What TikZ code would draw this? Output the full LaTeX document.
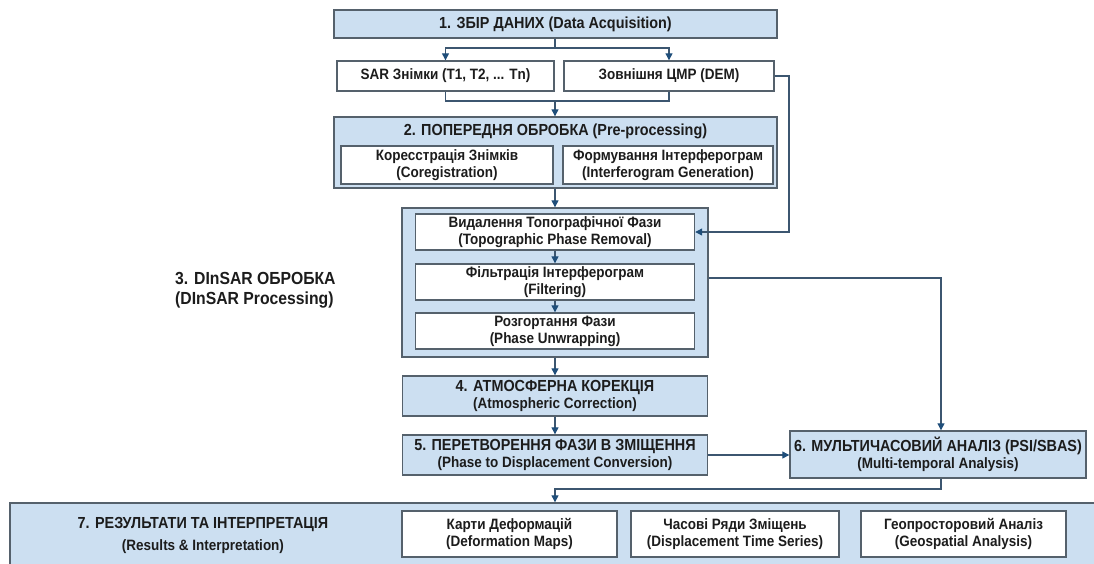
\documentclass[tikz,border=0pt]{standalone}
\usepackage{fontspec}
\setmainfont[FakeStretch=0.9]{Liberation Sans}
\usetikzlibrary{arrows.meta}
\definecolor{boxfill}{HTML}{CCDFF1}
\definecolor{boxdraw}{HTML}{55616C}
\definecolor{linecol}{HTML}{3C5670}
\definecolor{arrowcol}{HTML}{1F4E7A}
\definecolor{txtcol}{HTML}{1C1C1C}
\newcommand\mybig{\fontsize{16}{17}\selectfont}
\tikzset{
  bbox/.style={draw=boxdraw, fill=boxfill, line width=1.4pt, inner sep=0pt, align=center, text=txtcol, font=\fontsize{15}{17}\selectfont\bfseries},
  wbox/.style={draw=boxdraw, fill=white, line width=1.4pt, inner sep=0pt, align=center, text=txtcol, font=\fontsize{15}{17}\selectfont\bfseries},
  lbl/.style={inner sep=0pt, align=center, text=txtcol, font=\fontsize{16}{19}\selectfont\bfseries},
  conn/.style={draw=linecol, line width=1.2pt},
  arr/.style={conn, -{Triangle[length=7pt,width=7pt,color=arrowcol]}},
}
\begin{document}
\begin{tikzpicture}[x=1pt,y=-1pt]
\useasboundingbox (0,0) rectangle (1094,563);
% 1
\node[bbox, minimum width=443pt, minimum height=28pt] (b1) at (555.5,24) {\mybig 1. ЗБІР ДАНИХ (Data Acquisition)};
\node[wbox, minimum width=217pt, minimum height=30pt] (sar) at (445.5,76) {SAR Знімки (T1, T2, ... Tn)};
\node[wbox, minimum width=210pt, minimum height=30pt] (dem) at (669,76) {Зовнішня ЦМР (DEM)};
% 2
\node[bbox, minimum width=443pt, minimum height=71pt] (b2) at (555.5,152.5) {};
\node[lbl] (b2t) at (555.5,131) {2. ПОПЕРЕДНЯ ОБРОБКА (Pre-processing)};
\node[wbox, minimum width=212pt, minimum height=38pt] (cor) at (447,165) {Коресстрація Знімків\\(Coregistration)};
\node[wbox, minimum width=210pt, minimum height=38pt] (ifg) at (668,165) {Формування Інтерферограм\\(Interferogram Generation)};
% 3
\node[bbox, minimum width=306pt, minimum height=149pt] (b3) at (555,282.5) {};
\node[wbox, minimum width=279pt, minimum height=36pt] (t1) at (555,232) {Видалення Топографічної Фази\\(Topographic Phase Removal)};
\node[wbox, minimum width=279pt, minimum height=36pt] (t2) at (555,282) {Фільтрація Інтерферограм\\(Filtering)};
\node[wbox, minimum width=279pt, minimum height=36pt] (t3) at (555,331) {Розгортання Фази\\(Phase Unwrapping)};
\node[lbl, anchor=west, align=left, font=\fontsize{17.5}{20}\selectfont\bfseries] (l3) at (175,290) {3. DInSAR ОБРОБКА\\(DInSAR Processing)};
% 4,5,6
\node[bbox, minimum width=305pt, minimum height=40pt] (b4) at (555,396) {\mybig 4. АТМОСФЕРНА КОРЕКЦІЯ\\(Atmospheric Correction)};
\node[bbox, minimum width=305pt, minimum height=40pt] (b5) at (555,455) {\mybig 5. ПЕРЕТВОРЕННЯ ФАЗИ В ЗМІЩЕННЯ\\(Phase to Displacement Conversion)};
\node[bbox, minimum width=296pt, minimum height=47pt] (b6) at (938,454.5) {\mybig 6. МУЛЬТИЧАСОВИЙ АНАЛІЗ (PSI/SBAS)\\(Multi-temporal Analysis)};
% 7
\node[bbox, minimum width=1100pt, minimum height=70pt] (b7) at (560,538) {};
\node[lbl, font=\fontsize{16}{22}\selectfont\bfseries] (l7) at (203,535) {7. РЕЗУЛЬТАТИ ТА ІНТЕРПРЕТАЦІЯ\\\fontsize{15}{22}\selectfont (Results \& Interpretation)};
\node[wbox, minimum width=215pt, minimum height=46pt] (r1) at (509.5,534) {Карти Деформацій\\(Deformation Maps)};
\node[wbox, minimum width=208pt, minimum height=46pt] (r2) at (735,534) {Часові Ряди Зміщень\\(Displacement Time Series)};
\node[wbox, minimum width=205pt, minimum height=46pt] (r3) at (963.5,534) {Геопросторовий Аналіз\\(Geospatial Analysis)};
% coordinates
\coordinate (j1) at (555,48);
\coordinate (j2) at (555,101);
\coordinate (demc) at (789,76);
\coordinate (fj) at (941,278);
\coordinate (j7) at (555,489);
% connectors
\draw[conn] (j1 |- b1.south) -- (j1);
\draw[arr] (j1) -| (sar.north);
\draw[arr] (j1) -| (dem.north);
\draw[conn] (sar.south) |- (j2);
\draw[conn] (dem.south) |- (j2);
\draw[arr] (j2) -- (j2 |- b2.north);
\draw[arr] (j2 |- b2.south) -- (j2 |- b3.north);
\draw[arr] (t1.south) -- (t2.north);
\draw[arr] (t2.south) -- (t3.north);
\draw[arr] (b3.south) -- (b4.north);
\draw[arr] (b4.south) -- (b5.north);
\draw[arr] (dem.east) -- (demc) |- (t1.east);
\draw[arr] (b3.east |- fj) -- (fj) -- (fj |- b6.north);
\draw[arr] (b5.east) -- (b6.west |- b5.east);
\draw[arr] (fj |- b6.south) |- (j7) -- (j7 |- b7.north);
\end{tikzpicture}
\end{document}
